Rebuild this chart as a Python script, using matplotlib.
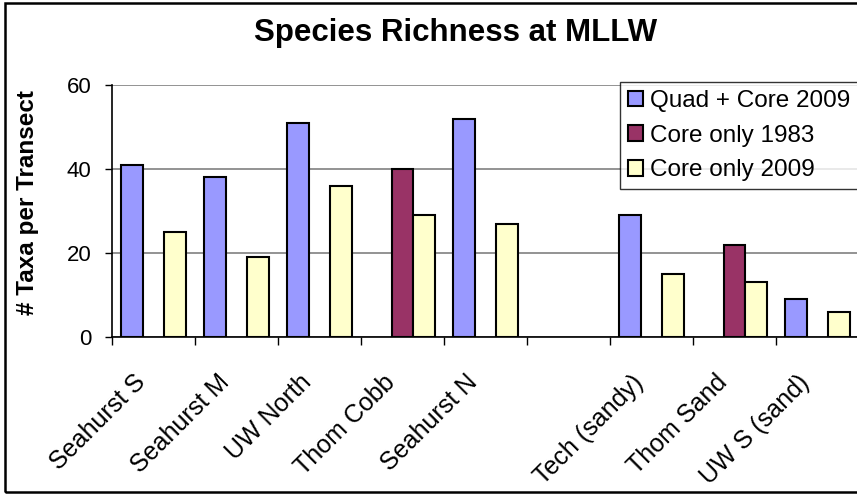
import numpy as np
import matplotlib
matplotlib.use("Agg")
from matplotlib import pyplot as plt
from matplotlib.patches import Rectangle

sitios = ["Seahurst S", "Seahurst M", "UW North", "Thom Cobb", "Seahurst N",
          "", "Tech (sandy)", "Thom Sand", "UW S (sand)"]
series = ["Quad + Core 2009", "Core only 1983", "Core only 2009"]
quad_core_2009 = [41, 38, 51, np.nan, 52, np.nan, 29, np.nan, 9]
core_1983 = [np.nan, np.nan, np.nan, 40, np.nan, np.nan, np.nan, 22, np.nan]
core_2009 = [25, 19, 36, 29, 27, np.nan, 15, 13, 6]
colores = ["#9999FF", "#993366", "#FFFFCC"]

plt.rcParams["font.family"] = ["Liberation Sans", "DejaVu Sans"]

fig = plt.figure(figsize=(8.57, 4.94), dpi=100)
ax = fig.add_axes([0.1307, 0.3178, 0.8716, 0.510])

x = np.arange(len(sitios))
ancho = 0.262
for i, (nombre, valores, color) in enumerate(zip(series, [quad_core_2009, core_1983, core_2009], colores)):
    valores = np.array(valores, dtype=float)
    ok = ~np.isnan(valores)
    ax.bar(x[ok] + (i - 1) * ancho, valores[ok], width=ancho, color=color,
           edgecolor="black", linewidth=1.5, label=nombre, zorder=3)

ax.set_xlim(-0.5, len(sitios) - 0.5)
ax.set_ylim(0, 60)
ax.set_yticks([0, 20, 40, 60])
ax.yaxis.grid(True, color="#808080", linewidth=1.2, zorder=0)
ax.set_axisbelow(True)

# marcas en los limites de cada categoria; etiquetas un poco a la izquierda del centro
ax.set_xticks(np.arange(len(sitios) + 1) - 0.5)
ax.set_xticklabels([])
ax.set_xticks(x - 0.24, minor=True)
ax.set_xticklabels(sitios, minor=True, rotation=45, ha="right", va="top",
                   rotation_mode="anchor", fontsize=18)
ax.tick_params(axis="x", which="minor", length=0, pad=24)
ax.tick_params(axis="x", which="major", length=6, width=1, direction="out")
ax.tick_params(axis="y", length=5, width=1, labelsize=16, pad=10)

for lado in ["top", "right"]:
    ax.spines[lado].set_visible(False)
ax.spines["left"].set_linewidth(1.2)
ax.spines["bottom"].set_linewidth(1.2)

fig.text(28 / 857, 1 - 203 / 494, "# Taxa per Transect", rotation=90,
         ha="center", va="center", fontsize=17.5, fontweight="bold")
fig.text(456 / 857, 1 - 32.5 / 494, "Species Richness at MLLW", ha="center",
         va="center", fontsize=22.5, fontweight="bold")

ley = ax.legend(loc="upper left", bbox_to_anchor=(0.7235, 0.834),
                bbox_transform=fig.transFigure, fontsize=17.5, frameon=True,
                fancybox=False, edgecolor="black", handlelength=0.62,
                handleheight=0.62, handletextpad=0.29, borderpad=0.33,
                labelspacing=0.52, borderaxespad=0)
ley.get_frame().set_linewidth(1.0)

# marco exterior del grafico
fig.patches.append(Rectangle((0.006, 0.004), 1.2, 0.99, transform=fig.transFigure,
                             fill=False, edgecolor="black", linewidth=1.8))

fig.savefig("out.png", dpi=100)
